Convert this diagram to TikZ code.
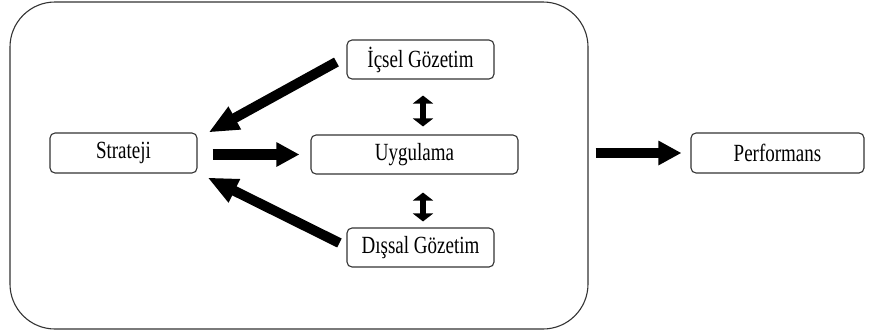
\documentclass[tikz,border=0pt]{standalone}
\usepackage{fontspec}
\setmainfont{Liberation Serif}
\usetikzlibrary{arrows.meta,calc}
\newcommand{\tallt}[1]{\scalebox{1}[1.3]{#1}}
\tikzset{
  box/.style={draw=black!80, line width=1.1pt, rounded corners=5pt, inner sep=0pt, font=\fontsize{19}{21}\selectfont},
  bigarrow/.style={line width=10.5pt, -{Triangle[length=23pt,width=23pt]}},
  diagarrow/.style={line width=10pt, -{Triangle[length=30pt,width=24pt]}},
  dblarrow/.style={line width=6.5pt, {Triangle[length=8pt,width=20pt]}-{Triangle[length=8pt,width=20pt]}},
}
\begin{document}
\begin{tikzpicture}[x=1pt,y=-1pt]
\useasboundingbox (0,0) rectangle (870,333);
\node[draw=black!80, line width=1.1pt, rounded corners=45pt, minimum width=578pt, minimum height=327pt, inner sep=0pt] (outer) at (299,165.5) {};
\node[box, minimum width=147pt, minimum height=40pt] (S) at (123.5,153) {\tallt{Strateji}};
\node[box, minimum width=207pt, minimum height=39pt] (U) at (414.5,154.5) {\tallt{Uygulama}};
\node[box, minimum width=147pt, minimum height=39pt] (I) at (420.5,59.5) {\tallt{İçsel Gözetim}};
\node[box, minimum width=147pt, minimum height=39pt] (D) at (420.5,247.5) {\tallt{Dışsal Gözetim}};
\node[box, minimum width=173pt, minimum height=40pt] (P) at (777.5,153) {\tallt{Performans}};
\draw[bigarrow, shorten <=15pt, shorten >=11pt] (S.east |- U.west) -- (U.west);
\draw[diagarrow] ($(I.west)+(-10,2.5)$) -- ($(S.north east)+(11,0)$);
\draw[diagarrow] ($(D.west)+(-7,-4.5)$) -- ($(S.south east)+(10,4)$);
\draw[dblarrow] ($(I.south)+(2.5,16)$) -- ($(U.north)+(8.5,-8)$);
\draw[dblarrow] ($(U.south)+(8.5,18)$) -- ($(D.north)+(2.5,-6)$);
\draw[bigarrow, shorten <=7pt, shorten >=9pt] (outer.east |- P.west) -- (P.west);
\end{tikzpicture}
\end{document}
